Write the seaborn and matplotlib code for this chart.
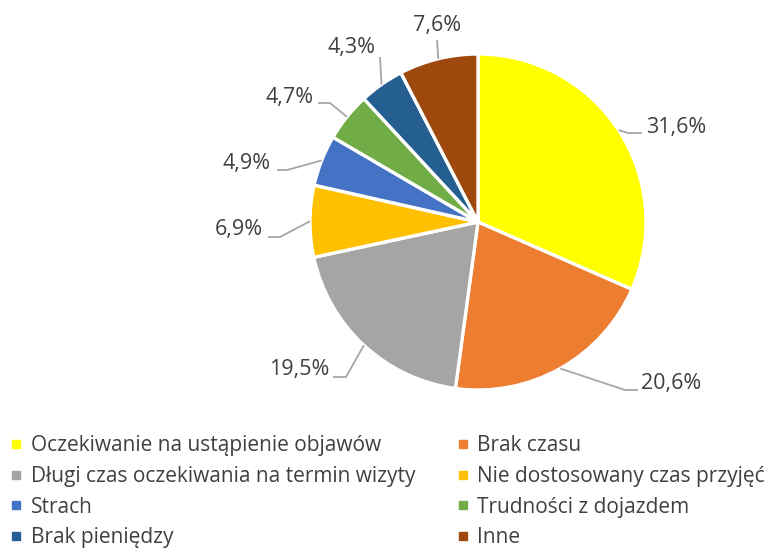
import numpy as np
import matplotlib
matplotlib.use("Agg")
import matplotlib.pyplot as plt
from matplotlib.lines import Line2D
import seaborn as sns

# Chart data
categories = [
    "Oczekiwanie na ustąpienie objawów",
    "Brak czasu",
    "Długi czas oczekiwania na termin wizyty",
    "Nie dostosowany czas przyjęć",
    "Strach",
    "Trudności z dojazdem",
    "Brak pieniędzy",
    "Inne",
]
shares = [31.6, 20.6, 19.5, 6.9, 4.9, 4.7, 4.3, 7.6]
value_labels = ["31,6%", "20,6%", "19,5%", "6,9%", "4,9%", "4,7%", "4,3%", "7,6%"]
colors = ["#FFFF00", "#ED7D31", "#A5A5A5", "#FFC000",
          "#4472C4", "#70AD47", "#255E91", "#9E480E"]

W, H = 768, 550
text_color = "#404040"
line_color = "#A6A6A6"

# label layout in pixels from the top-left: elbow, end of leader, text anchor, alignment
elbows = [(628, 133), (625, 390), (346, 377), (280, 237), (287, 170), (330, 103), (380, 57), (437, 40)]
ends = [(642, 133), (638, 390), (333, 377), (268, 237), (277, 170), (318, 103), (380, 57), (437, 40)]
text_pos = [(646, 128, "left"), (641, 383, "left"), (329, 370, "right"), (263, 230, "right"),
            (271, 163, "right"), (314, 97, "right"), (352, 48, "center"), (437, 26, "center")]

sns.set_theme(style="white")
plt.rcParams["font.family"] = ["Open Sans", "DejaVu Sans"]

fig = plt.figure(figsize=(W / 100, H / 100), dpi=100)
ax = fig.add_axes([0, 0, 1, 1])

cx, cy, r = 478, H - 222, 168
wedges, _ = ax.pie(shares, colors=colors, startangle=90, counterclock=False,
                   center=(cx, cy), radius=r,
                   wedgeprops=dict(edgecolor="white", linewidth=2.4))

for w, lab, el, en, tp in zip(wedges, value_labels, elbows, ends, text_pos):
    mid = np.deg2rad((w.theta1 + w.theta2) / 2)
    sx, sy = cx + r * np.cos(mid), cy + r * np.sin(mid)
    ax.plot([sx, el[0], en[0]], [sy, H - el[1], H - en[1]],
            color=line_color, lw=1.3, solid_capstyle="butt")
    ax.text(tp[0], H - tp[1], lab, ha=tp[2], va="center",
            fontsize=15.5, color=text_color)

ax.set_xlim(0, W)
ax.set_ylim(0, H)
ax.set_aspect("equal")
ax.axis("off")

# legend fills column-first, reference reads row-wise
order = [0, 2, 4, 6, 1, 3, 5, 7]
handles = [Line2D([], [], marker="s", linestyle="none", markersize=6,
                  markerfacecolor=colors[i], markeredgecolor=colors[i]) for i in order]
labels = [categories[i] for i in order]
leg = fig.legend(handles, labels, loc="upper left", bbox_to_anchor=(0.0, 1 - 425 / H),
                 ncol=2, frameon=False, fontsize=15, handlelength=0.55,
                 handletextpad=0.42, labelspacing=0.46, columnspacing=2.0,
                 borderaxespad=0, borderpad=0.5)
for t in leg.get_texts():
    t.set_color(text_color)

fig.savefig("out.png", dpi=100)
